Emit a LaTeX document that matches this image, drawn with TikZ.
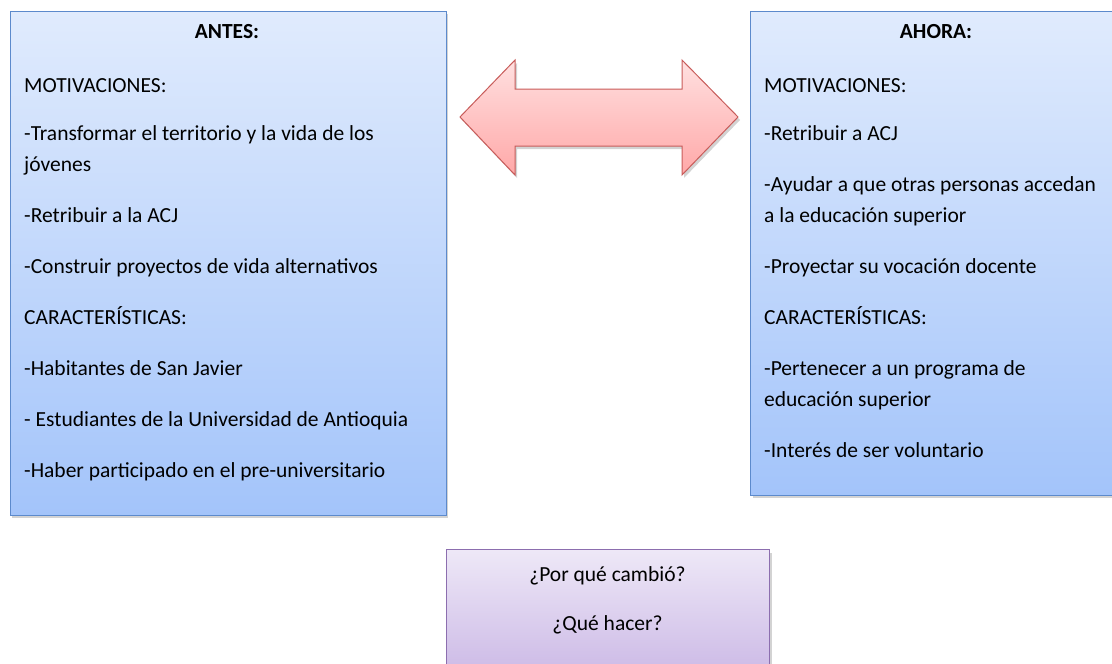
\documentclass[tikz,border=0pt]{standalone}
\usepackage{fontspec}
\setmainfont{Carlito}
\usetikzlibrary{positioning}
\usetikzlibrary{shadows}
\definecolor{boxline}{RGB}{92,138,204}
\definecolor{boxtop}{RGB}{224,235,253}
\definecolor{boxbottom}{RGB}{163,196,250}
\definecolor{arrowline}{RGB}{200,92,90}
\definecolor{arrowtop}{RGB}{255,224,224}
\definecolor{arrowbottom}{RGB}{255,168,168}
\definecolor{askline}{RGB}{140,110,175}
\definecolor{asktop}{RGB}{238,232,247}
\definecolor{askbottom}{RGB}{200,180,228}
\tikzset{
  txt/.style={font=\fontsize{21.5}{31}\selectfont},
  shade/.style={drop shadow={shadow xshift=2pt, shadow yshift=-3pt, opacity=0.35}},
  bluebox/.style={draw=boxline, line width=1.3pt, top color=boxtop, bottom color=boxbottom,
    shade, anchor=north west, minimum width=436pt},
  body/.style={txt, anchor=north west, align=left, inner sep=0pt},
  heading/.style={txt, font=\fontsize{21.5}{31}\selectfont\bfseries, anchor=base, inner sep=0pt}
}
\begin{document}
\begin{tikzpicture}[x=1pt, y=-1pt]
\useasboundingbox (0,0) rectangle (1112,664);

% the two boxes
\node[bluebox, minimum height=504pt] (antes) at (9.5,10.5) {};
\node[bluebox, minimum height=484pt] (ahora) at (750,10.5) {};

\node[heading] (antestit) at (227,38) {ANTES:};
\node[heading] (ahoratit) at (936,38) {AHORA:};

\node[body] (antestxt) at (24,78) {MOTIVACIONES:\\[17pt]
-Transformar el territorio y la vida de los\\ jóvenes\\[20pt]
-Retribuir a la ACJ\\[20pt]
-Construir proyectos de vida alternativos\\[20pt]
CARACTERÍSTICAS:\\[20pt]
-Habitantes de San Javier\\[20pt]
- Estudiantes de la Universidad de Antioquia\\[20pt]
-Haber participado en el pre-universitario};

\node[body] (ahoratxt) at (764,78) {MOTIVACIONES:\\[17pt]
-Retribuir a ACJ\\[20pt]
-Ayudar a que otras personas accedan\\ a la educación superior\\[20pt]
-Proyectar su vocación docente\\[20pt]
CARACTERÍSTICAS:\\[20pt]
-Pertenecer a un programa de\\ educación superior\\[20pt]
-Interés de ser voluntario};

% double arrow between them
\path[draw=arrowline, line width=1pt, top color=arrowtop, bottom color=arrowbottom, shade]
  (460,117) -- (515,60) -- (515,89) -- (682,89) -- (682,60) -- (738,117)
  -- (682,175) -- (682,146) -- (515,146) -- (515,175) -- cycle;

% question box
\node[draw=askline, line width=1.3pt, top color=asktop, bottom color=askbottom, shade,
  anchor=north west, minimum width=323pt, minimum height=140pt] (pregunta) at (446,549) {};
\node[txt, align=center, anchor=north, inner sep=0pt] (preguntatxt) at (607.5,566)
  {¿Por qué cambió?\\[18pt] ¿Qué hacer?};
\end{tikzpicture}
\end{document}
